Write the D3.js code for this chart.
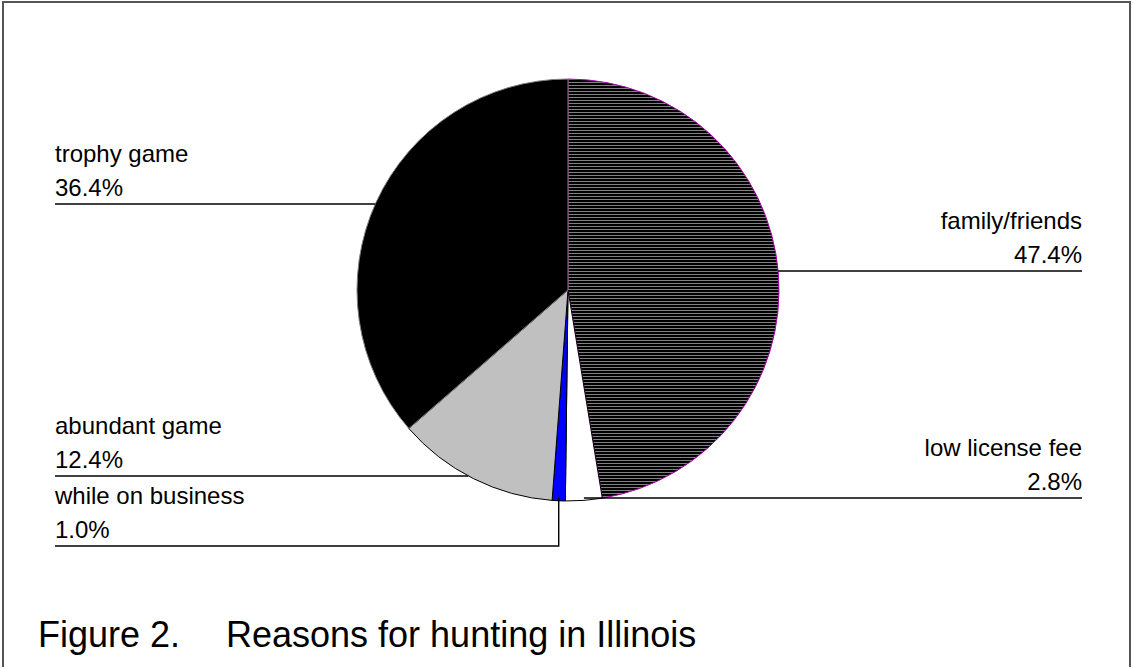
<!DOCTYPE html>
<html>
<head>
<meta charset="utf-8">
<script src="https://cdn.jsdelivr.net/npm/d3@7"></script>
<style>
  html, body { margin: 0; padding: 0; background: #fff; }
  svg { display: block; }
  text { font-family: "Liberation Sans", Arial, sans-serif; fill: #000; }
</style>
</head>
<body>
<svg id="chart" width="1133" height="667"></svg>
<script>
// ---- data ----
const categories = ["family/friends", "low license fee", "while on business", "abundant game", "trophy game"];
const values = [47.4, 2.8, 1.0, 12.4, 36.4];
const valueLabels = ["47.4%", "2.8%", "1.0%", "12.4%", "36.4%"];
const titleParts = ["Figure 2.", "Reasons for hunting in Illinois"];

// ---- styles ----
const fills = ["url(#hstripe)", "#ffffff", "#0000ff", "#c0c0c0", "#000000"];
const strokes = ["#b000b0", "#000000", "#000000", "#000000", "#808080"];

const W = 1133, H = 667;
const cx = 568, cy = 290, R = 211;

const svg = d3.select("#chart");

// pattern for family/friends
const defs = svg.append("defs");
const pat = defs.append("pattern")
  .attr("id", "hstripe").attr("patternUnits", "userSpaceOnUse")
  .attr("width", 8).attr("height", 3);
pat.append("rect").attr("width", 8).attr("height", 3).attr("fill", "#000");
pat.append("rect").attr("y", 2).attr("width", 8).attr("height", 1).attr("fill", "#808080");

// frame
svg.append("rect")
  .attr("x", 3).attr("y", 2).attr("width", 1127).attr("height", 700)
  .attr("fill", "none").attr("stroke", "#555").attr("stroke-width", 2);

const data = categories.map((c, i) => ({ name: c, value: values[i], label: valueLabels[i], i }));
const pie = d3.pie().value(d => d.value).sort(null);
const arcs = pie(data);
const arc = d3.arc().innerRadius(0).outerRadius(R);

const g = svg.append("g").attr("transform", `translate(${cx},${cy})`);
g.selectAll("path.slice").data(arcs).join("path")
  .attr("class", "slice")
  .attr("d", arc)
  .attr("fill", d => fills[d.data.i])
  .attr("stroke", d => strokes[d.data.i])
  .attr("stroke-width", 1);

// label layout (position per category)
const layout = [
  { side: "right", ruleY: 271, x: 1082 },
  { side: "right", ruleY: 498, x: 1082 },
  { side: "left",  ruleY: 546, x: 55, elbow: true },
  { side: "left",  ruleY: 476, x: 55 },
  { side: "left",  ruleY: 204, x: 55 }
];

const pt = (a, r) => [cx + r * Math.sin(a), cy - r * Math.cos(a)];

arcs.forEach((a, k) => {
  const L = layout[k];
  const mid = (a.startAngle + a.endAngle) / 2;
  let pathD;
  if (L.elbow) {
    const p = pt(mid, R);
    pathD = `M${L.x},${L.ruleY}H${p[0]}V${p[1] - 4}`;
  } else {
    const dy = L.ruleY - cy;
    const dx = Math.sqrt(Math.max(0, R * R - dy * dy));
    let px;
    if (k === 1) px = pt(mid, R)[0];
    else px = L.side === "right" ? cx + dx : cx - dx;
    pathD = `M${L.x},${L.ruleY}H${px}`;
  }
  svg.append("path").attr("d", pathD).attr("fill", "none")
    .attr("stroke", "#000").attr("stroke-width", 1.4);

  const anchor = L.side === "right" ? "end" : "start";
  svg.append("text").attr("x", L.x).attr("y", L.ruleY - 42)
    .attr("text-anchor", anchor).attr("font-size", 24).text(a.data.name);
  svg.append("text").attr("x", L.x).attr("y", L.ruleY - 8)
    .attr("text-anchor", anchor).attr("font-size", 24).text(a.data.label);
});

const title = svg.append("text").attr("x", 38).attr("y", 647).attr("font-size", 36);
title.append("tspan").attr("x", 38).text(titleParts[0]);
title.append("tspan").attr("x", 226).text(titleParts[1]);
</script>
</body>
</html>
